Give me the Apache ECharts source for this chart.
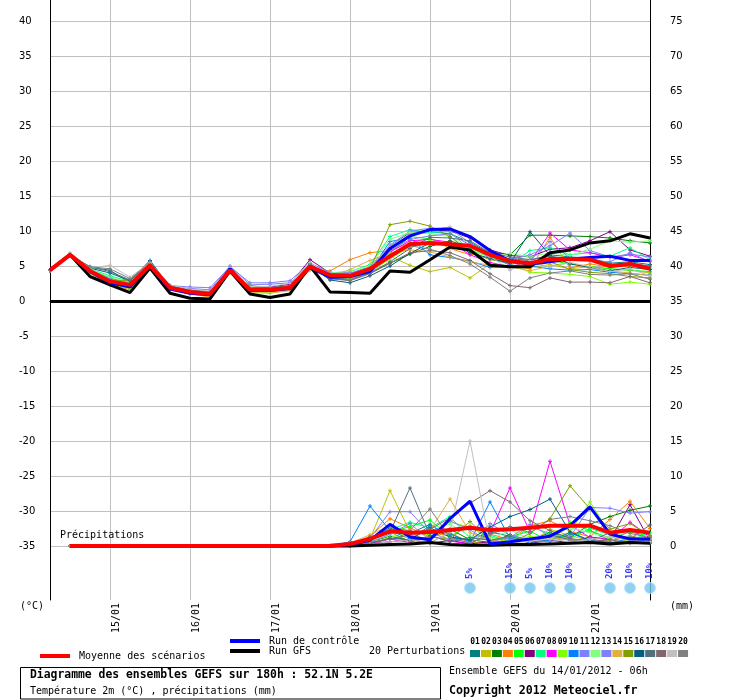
<html>
    <head>
        <meta charset="utf-8">
        <script src="https://cdn.jsdelivr.net/npm/echarts@6/dist/echarts.min.js"></script>
        <style>
            html, body { margin: 0; padding: 0; background: #fff; }
            #main { width: 740px; height: 700px; }
        </style>
    </head>
    <body>
        <div id="main"></div>
        <script>

        // time steps of the run (every 6 h from 14/01 06h)
        var times = [
            '14/01 06h', '14/01 12h', '14/01 18h',
            '15/01 00h', '15/01 06h', '15/01 12h', '15/01 18h',
            '16/01 00h', '16/01 06h', '16/01 12h', '16/01 18h',
            '17/01 00h', '17/01 06h', '17/01 12h', '17/01 18h',
            '18/01 00h', '18/01 06h', '18/01 12h', '18/01 18h',
            '19/01 00h', '19/01 06h', '19/01 12h', '19/01 18h',
            '20/01 00h', '20/01 06h', '20/01 12h', '20/01 18h',
            '21/01 00h', '21/01 06h', '21/01 12h', '21/01 18h'
        ];

        var tempTicks = [-35, -30, -25, -20, -15, -10, -5, 0, 5, 10, 15, 20, 25, 30, 35, 40];
        // grid lines: the 0 line is drawn apart as a double black line
        var tempGrid = [-35, -30, -25, -20, -15, -10, -5, 5, 10, 15, 20, 25, 30, 35, 40];
        var rainTicks = [0, 5, 10, 15, 20, 25, 30, 35, 40, 45, 50, 55, 60, 65, 70, 75];

        var pertNames = ['01', '02', '03', '04', '05', '06', '07', '08', '09', '10',
                         '11', '12', '13', '14', '15', '16', '17', '18', '19', '20'];
        var pertColors = ['#008080', '#c0c000', '#008000', '#ff8000', '#00ff00', '#800080', '#00ff80', '#ff00ff', '#80ff00', '#0080ff',
                          '#8080ff', '#80ff80', '#8080f8', '#e0b040', '#80a000', '#006080', '#507080', '#806870', '#c0c0c0', '#808080'];

        // 2 m temperature (°C)
        var meanTemp = [4.4, 6.6, 4.3, 2.8, 2.3, 5.1, 1.9, 1.3, 1.0, 4.4, 1.6, 1.6, 1.9, 4.9, 3.7, 3.6, 4.6, 6.4, 8.1, 8.3, 8.1, 7.9, 6.6, 5.7, 5.4, 6.0, 6.0, 5.9, 5.0, 5.3, 4.6];
        var gfsTemp = [4.4, 6.6, 3.5, 2.3, 1.2, 4.7, 1.1, 0.4, 0.3, 4.3, 1.0, 0.5, 1.0, 5.0, 1.3, 1.2, 1.1, 4.3, 4.1, 5.9, 7.7, 7.3, 5.1, 4.9, 4.9, 6.9, 7.3, 8.3, 8.6, 9.6, 9.0];
        var ctrlTemp = [4.4, 6.6, 4.2, 2.6, 2.0, 5.0, 1.7, 1.1, 0.9, 4.6, 1.5, 1.5, 1.8, 4.8, 3.4, 3.5, 4.2, 7.5, 9.3, 10.2, 10.3, 9.2, 7.2, 5.7, 5.3, 5.6, 6.0, 6.2, 6.4, 5.8, 5.8];
        var pertTemp = [
            [4.4, 6.6, 4.8, 4.4, 2.6, 5.6, 1.8, 1.5, 1.2, 4.6, 1.7, 1.8, 2.2, 5.2, 3.6, 3.9, 4.9, 7.8, 9.8, 9.9, 9.6, 8.4, 6.8, 6.0, 5.8, 6.6, 6.3, 6.1, 5.4, 5.6, 5.2],
            [4.4, 6.6, 4.4, 2.6, 2.0, 5.0, 1.8, 1.2, 0.9, 4.2, 1.5, 1.4, 1.6, 4.6, 3.5, 3.4, 4.7, 6.4, 5.1, 4.2, 4.8, 3.3, 5.3, 5.0, 4.8, 5.2, 4.6, 4.9, 4.6, 4.4, 4.0],
            [4.4, 6.6, 4.1, 2.5, 1.9, 4.9, 1.8, 1.3, 1.1, 4.3, 1.8, 1.7, 1.9, 4.7, 3.8, 3.3, 4.0, 5.4, 6.7, 7.8, 8.6, 7.6, 7.0, 6.6, 9.4, 9.4, 9.3, 9.2, 9.0, 8.6, 8.3],
            [4.4, 6.6, 4.2, 2.4, 1.6, 4.8, 1.7, 1.0, 0.6, 4.2, 1.4, 1.3, 1.5, 4.5, 4.3, 5.9, 6.9, 7.2, 8.3, 9.0, 7.5, 6.6, 6.9, 5.0, 4.6, 9.1, 4.7, 5.3, 4.8, 5.0, 4.7],
            [4.4, 6.6, 4.5, 3.3, 2.6, 5.3, 2.0, 1.4, 1.1, 4.5, 1.7, 1.8, 2.1, 5.0, 3.8, 3.9, 4.3, 6.9, 9.2, 8.9, 8.0, 7.6, 6.2, 5.4, 5.3, 5.8, 5.3, 4.9, 4.6, 4.4, 4.2],
            [4.4, 6.6, 4.3, 3.0, 2.4, 5.2, 2.1, 1.5, 1.3, 4.6, 1.9, 2.0, 2.4, 5.9, 4.0, 3.8, 4.5, 7.4, 9.6, 10.2, 10.0, 9.0, 7.3, 6.5, 6.3, 7.4, 7.6, 8.6, 9.9, 7.3, 6.4],
            [4.4, 6.6, 4.6, 3.6, 2.8, 5.4, 2.0, 1.4, 1.1, 4.4, 1.8, 1.7, 2.0, 5.0, 3.9, 4.2, 5.2, 9.2, 10.2, 9.8, 9.9, 7.2, 6.4, 5.2, 7.2, 7.6, 6.6, 6.9, 6.4, 7.6, 5.9],
            [4.4, 6.6, 4.2, 2.7, 2.1, 5.0, 1.9, 1.3, 1.0, 4.3, 1.6, 1.5, 1.8, 4.8, 3.4, 3.7, 4.6, 7.0, 8.6, 8.8, 8.4, 6.6, 5.5, 4.9, 5.6, 9.7, 7.3, 6.9, 6.2, 6.6, 5.7],
            [4.4, 6.6, 4.0, 2.3, 1.8, 4.8, 1.7, 1.1, 0.8, 4.1, 1.3, 1.2, 1.6, 4.6, 3.3, 3.2, 4.1, 6.0, 7.7, 8.6, 8.1, 7.0, 6.5, 5.3, 4.1, 4.0, 3.8, 3.5, 2.4, 2.7, 2.4],
            [4.4, 6.6, 4.4, 3.1, 2.4, 5.1, 1.6, 1.2, 1.0, 4.4, 1.4, 1.5, 1.9, 4.9, 3.1, 3.5, 4.3, 8.5, 9.0, 6.6, 6.2, 5.7, 4.8, 4.9, 5.0, 4.6, 4.4, 4.5, 4.1, 3.9, 3.7],
            [4.4, 6.6, 4.5, 2.9, 2.3, 5.1, 2.2, 2.0, 1.9, 4.9, 2.6, 2.6, 2.9, 5.4, 4.1, 4.0, 4.8, 8.0, 10.0, 10.4, 10.3, 8.3, 6.6, 5.9, 6.6, 7.9, 9.7, 7.2, 6.3, 6.7, 6.3],
            [4.4, 6.6, 4.6, 3.4, 2.7, 5.3, 2.0, 1.4, 1.1, 4.5, 1.7, 1.7, 2.2, 5.1, 4.0, 4.3, 5.0, 8.8, 9.8, 9.6, 9.2, 7.4, 6.3, 6.8, 6.3, 6.9, 6.5, 7.4, 8.6, 8.4, 8.6],
            [4.4, 6.6, 4.4, 3.2, 2.5, 5.2, 2.0, 1.8, 1.6, 5.0, 2.3, 2.4, 2.6, 5.3, 3.9, 4.0, 4.4, 7.2, 8.8, 9.3, 9.6, 8.0, 6.1, 5.2, 5.8, 8.5, 6.1, 5.8, 5.6, 6.9, 5.6],
            [4.4, 6.6, 4.1, 2.4, 1.3, 4.7, 1.6, 1.0, 0.7, 4.0, 1.2, 1.1, 1.5, 4.4, 3.5, 4.5, 5.8, 6.9, 7.3, 7.0, 6.3, 5.6, 5.1, 4.9, 4.3, 5.0, 5.5, 4.6, 4.3, 4.0, 3.6],
            [4.4, 6.6, 4.3, 2.9, 2.9, 5.3, 1.9, 1.3, 1.1, 4.2, 2.2, 1.9, 2.0, 4.9, 3.7, 3.6, 4.6, 10.9, 11.4, 10.7, 9.2, 7.0, 5.9, 5.5, 5.0, 5.6, 4.5, 4.1, 3.9, 3.5, 3.3],
            [4.4, 6.6, 4.7, 4.0, 2.9, 5.8, 2.0, 1.4, 1.2, 4.6, 1.8, 1.8, 2.1, 5.1, 3.0, 2.6, 3.6, 5.0, 6.8, 8.3, 8.4, 6.9, 6.1, 5.4, 9.9, 6.5, 5.3, 4.8, 4.3, 4.8, 4.5],
            [4.4, 6.6, 4.9, 4.2, 3.0, 5.6, 2.1, 1.6, 1.3, 4.7, 1.9, 1.9, 2.2, 5.3, 3.2, 3.0, 4.0, 5.6, 7.5, 9.1, 9.0, 8.6, 6.9, 6.3, 5.9, 6.4, 6.0, 5.9, 5.2, 5.4, 5.0],
            [4.4, 6.6, 4.2, 2.7, 2.2, 4.9, 1.8, 1.3, 1.2, 4.3, 1.6, 1.6, 1.8, 4.7, 3.2, 2.9, 3.9, 5.4, 6.9, 7.2, 6.9, 5.8, 3.9, 2.2, 1.9, 3.3, 2.7, 2.7, 2.6, 3.5, 2.6],
            [4.4, 6.9, 4.7, 5.1, 3.4, 5.5, 2.3, 1.7, 1.4, 4.8, 2.0, 2.1, 2.5, 5.5, 3.6, 3.7, 4.9, 7.8, 9.6, 10.1, 10.6, 7.9, 6.4, 4.4, 5.8, 4.8, 5.5, 4.9, 4.2, 4.6, 3.6],
            [4.4, 6.6, 4.9, 4.6, 3.2, 5.4, 2.1, 1.5, 1.3, 4.5, 1.7, 1.8, 2.1, 5.1, 3.4, 3.1, 4.1, 6.3, 7.9, 7.4, 6.5, 5.3, 3.4, 1.4, 3.3, 4.0, 4.3, 3.8, 3.7, 3.9, 3.1]
        ];

        // precipitation (mm / 6 h), nothing falls before 18/01
        var dryStart = [null, 0, 0, 0, 0, 0, 0, 0, 0, 0, 0, 0, 0, 0];
        var meanRain = dryStart.concat([0.05, 0.3, 1.0, 2.1, 1.9, 2.0, 2.3, 2.6, 2.3, 2.4, 2.6, 2.9, 2.9, 2.9, 1.9, 2.3, 1.9]);
        var ctrlRain = dryStart.concat([0, 0.2, 0.8, 3.1, 1.3, 0.9, 3.9, 6.4, 0.3, 0.6, 1.0, 1.4, 2.9, 5.6, 1.7, 1.0, 1.0]);
        var gfsRain = dryStart.concat([0, 0, 0.1, 0.2, 0.3, 0.5, 0.2, 0.1, 0.1, 0.2, 0.2, 0.3, 0.4, 0.5, 0.3, 0.5, 0.4]);
        var pertRain = [
            dryStart.concat([0, 0.3, 1.2, 2.5, 1.8, 3.1, 1.2, 0.8, 2.0, 1.4, 0.6, 0.9, 1.6, 2.2, 0.8, 1.3, 1.0]),
            dryStart.concat([0, 0.4, 1.0, 7.9, 2.0, 0.5, 1.8, 0.6, 0.3, 1.1, 0.4, 2.4, 1.5, 0.7, 0.5, 0.9, 0.6]),
            dryStart.concat([0, 0.1, 0.6, 1.4, 0.8, 1.2, 2.4, 0.9, 0.5, 1.6, 0.8, 1.9, 1.2, 3.1, 4.2, 5.1, 5.7]),
            dryStart.concat([0, 0.2, 1.4, 3.9, 2.6, 1.3, 1.9, 0.4, 1.7, 0.9, 2.9, 3.6, 2.1, 1.3, 3.8, 6.4, 2.5]),
            dryStart.concat([0, 0.2, 0.9, 1.9, 2.8, 3.7, 1.4, 2.9, 0.8, 1.3, 2.1, 0.7, 3.4, 2.2, 1.1, 2.0, 1.4]),
            dryStart.concat([0, 0.1, 0.4, 0.6, 0.9, 0.4, 0.8, 0.3, 0.6, 0.2, 0.4, 0.8, 0.5, 1.3, 0.9, 5.9, 0.7]),
            dryStart.concat([0, 0.3, 0.8, 2.3, 3.4, 2.6, 4.2, 1.1, 1.5, 0.7, 2.7, 1.8, 1.0, 2.5, 1.6, 0.8, 1.9]),
            dryStart.concat([0, 0.1, 0.3, 1.0, 0.5, 1.4, 0.7, 0.3, 1.8, 8.3, 2.0, 12.1, 3.0, 1.2, 0.9, 3.4, 1.3]),
            dryStart.concat([0, 0.1, 0.5, 1.2, 2.0, 1.6, 3.4, 2.7, 1.3, 0.6, 1.4, 0.9, 2.0, 6.3, 1.8, 0.6, 0.5]),
            dryStart.concat([0, 0.6, 5.7, 2.2, 1.0, 2.9, 1.7, 0.6, 6.3, 1.1, 0.5, 0.8, 1.9, 0.7, 0.4, 1.1, 0.6]),
            dryStart.concat([0, 0.3, 1.1, 4.9, 4.9, 1.8, 1.0, 0.5, 3.2, 1.5, 0.8, 0.6, 1.3, 5.5, 5.4, 4.7, 4.9]),
            dryStart.concat([0, 0.1, 0.7, 1.5, 1.2, 2.6, 3.1, 1.4, 0.9, 2.3, 1.0, 1.6, 2.6, 1.9, 1.2, 0.9, 1.6]),
            dryStart.concat([0, 0.2, 0.5, 1.7, 3.2, 0.8, 3.6, 2.3, 0.6, 1.2, 3.1, 1.4, 0.8, 1.0, 0.6, 2.2, 0.9]),
            dryStart.concat([0, 0.4, 1.6, 2.9, 1.4, 2.2, 6.7, 1.9, 0.8, 0.5, 0.7, 1.2, 0.9, 0.6, 0.8, 1.5, 0.8]),
            dryStart.concat([0, 0.2, 0.8, 2.0, 0.6, 1.4, 0.9, 3.5, 0.7, 0.4, 1.8, 3.9, 8.6, 5.3, 2.4, 3.2, 1.5]),
            dryStart.concat([0, 0.1, 0.4, 1.1, 0.9, 2.6, 1.3, 0.9, 2.7, 4.2, 5.2, 6.7, 2.0, 0.8, 0.5, 0.6, 0.4]),
            dryStart.concat([0, 0.2, 1.3, 2.0, 8.3, 1.5, 0.6, 1.2, 0.8, 1.4, 0.4, 1.6, 0.9, 0.7, 1.9, 1.0, 3.0]),
            dryStart.concat([0, 0.1, 0.5, 1.0, 1.6, 2.4, 4.0, 6.1, 7.9, 6.3, 3.6, 2.2, 1.1, 0.6, 0.9, 0.4, 0.8]),
            dryStart.concat([0, 0.1, 0.3, 0.6, 0.9, 0.5, 2.0, 15.0, 0.2, 0.4, 0.7, 1.0, 0.6, 0.9, 1.4, 0.8, 0.6]),
            dryStart.concat([0, 0.3, 0.9, 2.6, 2.2, 5.3, 1.2, 0.4, 1.6, 2.8, 1.9, 3.8, 4.2, 3.6, 2.9, 1.8, 1.2])
        ];

        // snow probability (%) at time step index
        var snowSteps = [21, 23, 24, 25, 26, 28, 29, 30];
        var snowPct = [5, 15, 5, 10, 10, 20, 10, 10];

        var mono = 'DejaVu Sans Mono';
        var plusSymbol = 'path://M1.5,0H2.5V1.5H4V2.5H2.5V4H1.5V2.5H0V1.5H1.5Z';

        function thinLine(name, data, color, axis) {
            return {
                name: name,
                type: 'line',
                yAxisIndex: axis,
                data: data,
                symbol: plusSymbol,
                symbolSize: 4,
                lineStyle: { width: 1, color: color },
                itemStyle: { color: color },
                z: 2,
                silent: true
            };
        }

        function thickLine(name, data, color, width, axis, z) {
            return {
                name: name,
                type: 'line',
                yAxisIndex: axis,
                data: data,
                symbol: 'none',
                lineStyle: { width: width, color: color },
                itemStyle: { color: color },
                z: z,
                silent: true
            };
        }

        var series = [];
        pertTemp.forEach(function (d, k) {
            series.push(thinLine(pertNames[k], d, pertColors[k], 0));
        });
        pertRain.forEach(function (d, k) {
            series.push(thinLine(pertNames[k], d, pertColors[k], 1));
        });
        series.push(thickLine('Run GFS', gfsTemp, '#000', 3, 0, 3));
        series.push(thickLine('Run GFS', gfsRain, '#000', 3, 1, 3));
        series.push(thickLine('Run de contrôle', ctrlTemp, '#0000ff', 3, 0, 4));
        series.push(thickLine('Run de contrôle', ctrlRain, '#0000ff', 3, 1, 4));
        var meanT = thickLine('Moyenne des scénarios', meanTemp, '#ff0000', 4, 0, 5);
        meanT.markLine = {
            symbol: 'none',
            silent: true,
            label: { show: false },
            lineStyle: { color: '#000', width: 1, type: 'solid' },
            data: [{ yAxis: 0.07 }, { yAxis: -0.22 }]
        };
        series.push(meanT);
        series.push(thickLine('Moyenne des scénarios', meanRain, '#ff0000', 4, 1, 5));

        series.push({
            type: 'scatter',
            yAxisIndex: 0,
            silent: true,
            z: 6,
            data: snowSteps.map(function (s, k) { return [s, -41, snowPct[k]]; }),
            symbol: 'circle',
            symbolSize: 11,
            itemStyle: { color: '#74c4ee', borderColor: '#b4e6ff', borderWidth: 1 },
            label: {
                show: true,
                position: 'top',
                distance: 3,
                rotate: 90,
                align: 'left',
                verticalAlign: 'middle',
                formatter: function (p) { return p.value[2] + '%'; },
                color: '#0000ff',
                fontFamily: mono,
                fontSize: 9,
                fontWeight: 'bold'
            }
        });

        // perturbation colour key
        var graphics = [
            { type: 'text', left: 20, top: 601, style: { text: '(°C)', fontFamily: mono, fontSize: 10, fill: '#000' } },
            { type: 'text', left: 670, top: 601, style: { text: '(mm)', fontFamily: mono, fontSize: 10, fill: '#000' } },
            { type: 'text', left: 60, top: 530, z: 10, style: { text: 'Précipitations', fontFamily: mono, fontSize: 10, fill: '#000' } },
            { type: 'text', left: 369, top: 646, style: { text: '20 Perturbations', fontFamily: mono, fontSize: 10, fill: '#000' } },
            { type: 'rect', shape: { x: 20.5, y: 667.5, width: 420, height: 31.5 }, style: { fill: '#fff', stroke: '#000', lineWidth: 1 } },
            { type: 'text', left: 30, top: 670, style: { text: 'Diagramme des ensembles GEFS sur 180h : 52.1N 5.2E', fontFamily: mono, fontSize: 11.4, fontWeight: 'bold', fill: '#000' } },
            { type: 'text', left: 30, top: 686, style: { text: 'Température 2m (°C) , précipitations (mm)', fontFamily: mono, fontSize: 10, fill: '#000' } },
            { type: 'text', left: 449, top: 666, style: { text: 'Ensemble GEFS du 14/01/2012 - 06h', fontFamily: mono, fontSize: 10, fill: '#000' } },
            { type: 'text', left: 449, top: 685, style: { text: 'Copyright 2012 Meteociel.fr', fontFamily: mono, fontSize: 11.6, fontWeight: 'bold', fill: '#000' } }
        ];
        pertNames.forEach(function (n, k) {
            var x = 470 + k * 10.95;
            graphics.push({ type: 'rect', shape: { x: x, y: 650, width: 10, height: 7 }, style: { fill: pertColors[k] } });
            graphics.push({ type: 'text', x: x + 5, y: 638, style: { text: n, fontFamily: mono, fontSize: 8, fontWeight: 'bold', fill: '#000', textAlign: 'center' } });
        });

        var myChart = echarts.init(document.getElementById('main'));

        var option = {
            animation: false,
            backgroundColor: '#fff',
            grid: { left: 50, right: 90, top: 0, bottom: 100 },
            legend: [
                {
                    data: ['Moyenne des scénarios'],
                    left: 35,
                    top: 646,
                    icon: 'rect',
                    itemWidth: 30,
                    itemHeight: 4,
                    selectedMode: false,
                    textStyle: { fontFamily: mono, fontSize: 10, color: '#000', padding: [0, 0, 0, 4] }
                },
                {
                    data: ['Run de contrôle', 'Run GFS'],
                    orient: 'vertical',
                    left: 225,
                    top: 631,
                    itemGap: 0,
                    icon: 'rect',
                    itemWidth: 30,
                    itemHeight: 4,
                    selectedMode: false,
                    textStyle: { fontFamily: mono, fontSize: 10, lineHeight: 10, color: '#000', padding: [0, 0, 0, 4] }
                }
            ],
            xAxis: {
                type: 'category',
                data: times,
                boundaryGap: false,
                axisLine: { lineStyle: { color: '#000', width: 1 } },
                axisTick: { show: false },
                axisLabel: {
                    interval: function (i, v) { return v.indexOf('00h') > 0; },
                    formatter: function (v) { return v.slice(0, 5); },
                    rotate: 90,
                    margin: 3,
                    verticalAlign: 'top',
                    padding: [1, 0, 0, 0],
                    fontFamily: mono,
                    fontSize: 10,
                    color: '#000'
                },
                splitLine: {
                    show: true,
                    interval: function (i, v) { return v.indexOf('00h') > 0; },
                    lineStyle: { color: '#c0c0c0', width: 1 }
                }
            },
            yAxis: [
                {
                    type: 'value',
                    min: -42.714,
                    max: 43,
                    axisLine: { show: true, lineStyle: { color: '#000', width: 1 } },
                    axisTick: { show: false, customValues: tempGrid },
                    axisLabel: {
                        customValues: tempTicks,
                        align: 'left',
                        margin: 31,
                        fontFamily: 'DejaVu Sans',
                        fontSize: 10,
                        color: '#000'
                    },
                    splitLine: { show: true, lineStyle: { color: '#c0c0c0', width: 1 } }
                },
                {
                    type: 'value',
                    position: 'right',
                    min: -7.714,
                    max: 78,
                    axisLine: { show: true, lineStyle: { color: '#000', width: 1 } },
                    axisTick: { show: false, customValues: rainTicks },
                    axisLabel: {
                        customValues: rainTicks,
                        margin: 20,
                        fontFamily: 'DejaVu Sans',
                        fontSize: 10,
                        color: '#000'
                    },
                    splitLine: { show: false }
                }
            ],
            graphic: graphics,
            series: series
        };

        myChart.setOption(option);

        </script>
    </body>
</html>
